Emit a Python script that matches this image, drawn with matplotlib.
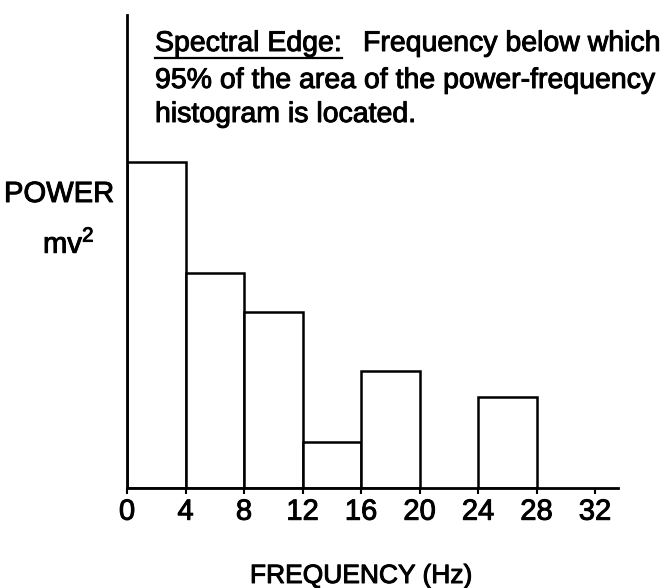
import matplotlib
matplotlib.use("Agg")
import matplotlib.pyplot as plt
import matplotlib.patheffects as pe
from matplotlib.lines import Line2D

plt.rcParams['font.family'] = ['Liberation Sans', 'DejaVu Sans']
plt.rcParams['mathtext.fontset'] = 'custom'
plt.rcParams['mathtext.rm'] = 'Liberation Sans'

# bins (Hz) and power heights
bin_starts = [0, 4, 8, 12, 16, 20, 24]
bin_width = 4
power = [32.6, 21.5, 17.6, 4.6, 11.7, 0, 9.1]
tick_vals = [0, 4, 8, 12, 16, 20, 24, 28, 32]

W, H = 670, 588

def fx(px):
    return px / W

def fy(py):
    return 1 - py / H

# the scan looks a bit heavier than the plain font
heavy = [pe.withStroke(linewidth=0.7, foreground='black')]

fig = plt.figure(figsize=(6.7, 5.88), dpi=100)
ax = fig.add_axes([fx(127), fy(488), fx(618) - fx(127), fy(15) - fy(488)])

for x0, h in zip(bin_starts, power):
    if h > 0:
        ax.bar(x0, h, width=bin_width, align='edge', color='white',
               edgecolor='black', linewidth=1.8)

ax.set_xlim(0, 33.57)
ax.set_ylim(0, 47.3)
ax.spines['top'].set_visible(False)
ax.spines['right'].set_visible(False)
ax.spines['left'].set_linewidth(2)
ax.spines['bottom'].set_linewidth(2)
ax.set_yticks([])
ax.set_xticks(tick_vals)
ax.set_xticklabels([str(t) for t in tick_vals],
                   family=['Liberation Sans Narrow', 'Liberation Sans'], fontsize=21)
for lbl in ax.get_xticklabels():
    lbl.set_path_effects(heavy)
ax.tick_params(axis='x', direction='out', length=4, width=1.5, pad=3)

fig.text(fx(361), fy(588), "FREQUENCY (Hz)", ha='center', va='bottom', fontsize=19,
         path_effects=heavy)
fig.text(fx(59), fy(194), "POWER", ha='center', va='center', fontsize=21,
         path_effects=heavy)
fig.text(fx(43), fy(253), r"mv$^{\mathregular{2}}$", ha='left', va='baseline', fontsize=21,
         path_effects=heavy)

fs = 20.5
t1 = fig.text(fx(155), fy(51), "Spectral Edge:", ha='left', va='baseline', fontsize=fs,
              path_effects=heavy)
fig.text(fx(661), fy(51), "Frequency below which", ha='right', va='baseline', fontsize=fs,
         path_effects=heavy)
fig.text(fx(155), fy(88), "95% of the area of the power-frequency", ha='left', va='baseline',
         fontsize=fs, path_effects=heavy)
fig.text(fx(155), fy(122), "histogram is located.", ha='left', va='baseline', fontsize=fs,
         path_effects=heavy)

fig.canvas.draw()
bb = t1.get_window_extent().transformed(fig.transFigure.inverted())
fig.add_artist(Line2D([bb.x0, bb.x1], [fy(58), fy(58)],
                      transform=fig.transFigure, color='black', linewidth=1.6))

fig.savefig("out.png", dpi=100)
